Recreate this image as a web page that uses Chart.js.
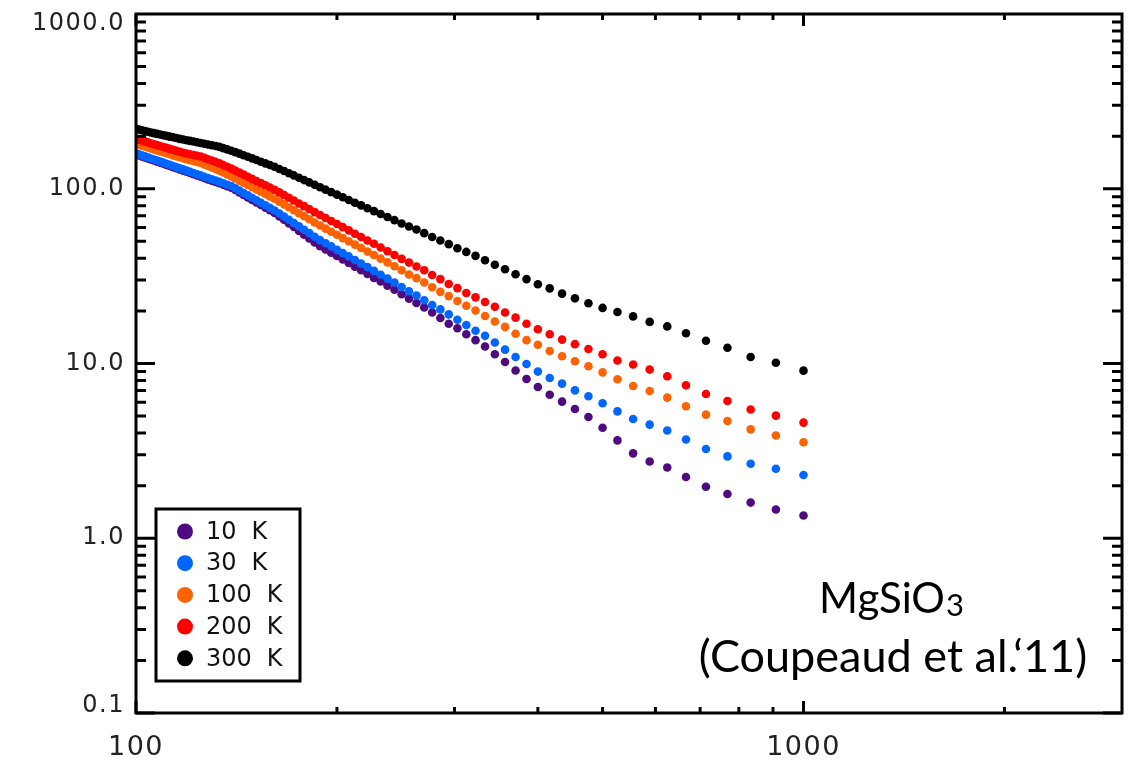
<!DOCTYPE html>
<html><head><meta charset="utf-8">
<script src="https://cdn.jsdelivr.net/npm/chart.js@4.4.1/dist/chart.umd.min.js"></script>
<style>html,body{margin:0;padding:0;background:#fff;}canvas{display:block;}</style>
</head><body>
<canvas id="c" width="1141" height="768"></canvas>
<script>
// wavelength (x) of each sample
const wavelength = [100, 101.01, 102.04, 103.09, 104.17, 105.26, 106.38, 107.53, 108.70, 109.89,
  111.11, 112.36, 113.64, 114.94, 116.28, 117.65, 119.05, 120.48, 121.95, 123.46,
  125, 126.58, 128.21, 129.87, 131.58, 133.33, 135.14, 136.99, 138.89, 140.85,
  142.86, 144.93, 147.06, 149.25, 151.52, 153.85, 156.25, 158.73, 161.29, 163.93,
  166.67, 169.49, 172.41, 175.44, 178.57, 181.82, 185.19, 188.68, 192.31, 196.08,
  200, 204.08, 208.33, 212.77, 217.39, 222.22, 227.27, 232.56, 238.10, 243.90,
  250, 256.41, 263.16, 270.27, 277.78, 285.71, 294.12, 303.03, 312.5, 322.58,
  333.33, 344.83, 357.14, 370.37, 384.62, 400, 416.67, 434.78, 454.55, 476.19,
  500, 526.32, 555.56, 588.24, 625, 666.67, 714.29, 769.23, 833.33, 909.09, 1000];

const k10 = [157.4, 155.3, 153.2, 151.2, 149.2, 147.2, 145.1, 143, 141, 138.9,
  136.9, 134.9, 132.9, 130.9, 129, 127.0, 125, 123, 121, 119.1,
  117.1, 115.1, 113.2, 111.3, 109.4, 107.5, 105.4, 103.4, 101.5, 98.4,
  95.3, 92.2, 89.2, 86.3, 83.5, 80.7, 78.0, 75.3, 72.7, 69.5,
  66.4, 63.3, 60.4, 57.4, 54.6, 51.9, 49.3, 46.9, 45.0, 43.1,
  41.2, 39.4, 37.6, 35.8, 34.2, 32.5, 30.9, 29.5, 27.9, 26.4,
  24.9, 23.5, 22.2, 20.9, 19.6, 18.2, 16.9, 15.9, 14.7, 13.6,
  12.5, 11.3, 10.2, 9.11, 8.15, 7.34, 6.63, 6.05, 5.49, 4.94,
  4.29, 3.63, 3.06, 2.75, 2.54, 2.24, 1.97, 1.79, 1.60, 1.46, 1.35];

const k30 = [159.5, 157.4, 155.3, 153.2, 151.1, 149.1, 147, 145, 143, 141,
  139.0, 137, 135, 133, 131, 129.0, 127, 125, 123.1, 121.1,
  119.2, 117.2, 115.2, 113.3, 111.4, 109.5, 107.5, 105.5, 103.6, 100.6,
  97.6, 94.6, 91.7, 88.8, 85.9, 83.1, 80.4, 77.7, 75.1, 72.1,
  69.3, 66.5, 63.6, 60.9, 58.2, 55.7, 53.1, 50.8, 48.8, 46.8,
  44.7, 42.8, 41.0, 39.1, 37.3, 35.6, 33.9, 32.2, 30.6, 29.1,
  27.4, 25.9, 24.5, 23.0, 21.6, 20.4, 19.1, 17.8, 16.6, 15.4,
  14.4, 13.2, 12.0, 10.9, 9.93, 8.99, 8.26, 7.67, 7.02, 6.49,
  5.92, 5.32, 4.81, 4.47, 4.14, 3.67, 3.24, 2.94, 2.67, 2.50, 2.30];

const k100 = [180.9, 178.7, 176.5, 174.4, 172.3, 170.2, 168, 165.8, 163.7, 161.6,
  159.5, 157.4, 155.3, 153.3, 151.3, 149.3, 147.5, 145.7, 144, 142.2,
  140.5, 137.7, 135, 132.3, 129.6, 127.0, 123.8, 120.7, 117.6, 114.4,
  111.3, 108.2, 105.1, 102.1, 99.2, 96.2, 93.3, 90.4, 87.6, 84.4,
  81.4, 78.3, 75.4, 72.5, 69.7, 66.9, 64.1, 61.6, 59.1, 56.8,
  54.5, 52.2, 50.1, 47.9, 45.8, 43.7, 41.8, 39.8, 37.9, 36.0,
  34.2, 32.3, 30.8, 29.1, 27.3, 25.7, 24.3, 22.8, 21.4, 20.1,
  18.7, 17.4, 16.2, 14.8, 13.6, 12.8, 11.8, 11.0, 10.3, 9.64,
  8.90, 8.12, 7.43, 6.96, 6.38, 5.69, 5.10, 4.69, 4.20, 3.87, 3.54];

const k200 = [193.2, 191, 188.8, 186.6, 184.4, 182.2, 179.9, 177.7, 175.6, 173.4,
  171.3, 169.1, 167, 164.9, 162.8, 160.8, 159.2, 157.6, 156, 154.5,
  152.9, 150.2, 147.6, 145, 142.4, 139.8, 136.6, 133.5, 130.4, 127,
  123.7, 120.4, 117.1, 113.9, 110.8, 107.7, 104.7, 101.7, 98.7, 95.3,
  92.1, 88.8, 85.7, 82.4, 79.5, 76.5, 73.5, 70.7, 68.0, 65.4,
  62.8, 60.3, 57.8, 55.3, 52.9, 50.6, 48.4, 46.1, 43.9, 41.8,
  39.7, 37.8, 35.9, 34.2, 32.1, 30.4, 28.5, 27.0, 25.3, 23.9,
  22.5, 21.1, 19.6, 18.3, 16.9, 15.7, 14.7, 13.7, 12.9, 12.1,
  11.3, 10.4, 9.86, 9.23, 8.45, 7.50, 6.69, 6.10, 5.45, 5.03, 4.59];

const k300 = [220, 218, 216, 214, 212, 210, 208, 206, 204.5, 202.5,
  200.7, 198.8, 197, 195, 193, 191.3, 189.5, 187.8, 186.2, 184.5,
  182.9, 181, 179.2, 177.3, 175.5, 173.6, 170.7, 167.9, 165.1, 162,
  158.9, 155.6, 152.4, 149.2, 146.0, 142.8, 139.7, 136.6, 133.5, 129.8,
  126.3, 122.7, 119.2, 115.6, 112.1, 108.7, 105.3, 102.0, 98.8, 95.6,
  92.6, 89.4, 86.2, 83.2, 80.3, 77.3, 74.5, 71.7, 68.9, 66.1,
  63.3, 60.8, 58.5, 55.7, 53.0, 50.6, 48.2, 45.7, 43.5, 41.3,
  39.0, 36.7, 34.6, 32.4, 30.4, 28.4, 26.9, 25.1, 23.6, 22.1,
  20.8, 19.7, 18.6, 17.3, 16.3, 14.9, 13.5, 12.3, 10.9, 10.1, 9.1];

const seriesLabels = ['10 K', '30 K', '100 K', '200 K', '300 K'];
const seriesValues = [k10, k30, k100, k200, k300];
const seriesColors = ['#4f0a80', '#0066ff', '#ff6200', '#ff0000', '#000000'];

const xTickValues = [100, 1000];
const xTickLabels = ['100', '1000'];
const yTickValues = [0.1, 1, 10, 100, 1000];
const yTickLabels = ['0.1', '1.0', '10.0', '100.0', '1000.0'];
const noteLine1 = 'MgSiO';
const noteSub = '3';
const noteLine2 = '(Coupeaud et al.\u201811)';

const datasets = seriesValues.map((vals, s) => ({
  label: seriesLabels[s],
  data: wavelength.map((w, i) => ({ x: w, y: vals[i] })),
  backgroundColor: seriesColors[s],
  borderColor: seriesColors[s],
  borderWidth: 0,
  pointRadius: 4.3,
  pointHoverRadius: 4.3,
  showLine: false,
  clip: 0,
  order: seriesValues.length - s
}));

const frameTicks = {
  id: 'frameTicks',
  beforeDraw(chart) {
    chart.ctx.letterSpacing = '1.5px';
    // keep the end labels of the y axis inside the frame, as in the original
    try {
      const items = chart.scales.y.getLabelItems(chart.chartArea);
      items.forEach((it) => {
        if (it.label === yTickLabels[yTickLabels.length - 1] && !it._shifted) { it.options.translation[1] += 10; it._shifted = true; }
        if (it.label === yTickLabels[0] && !it._shifted) { it.options.translation[1] -= 7; it._shifted = true; }
      });
    } catch (e) {}
  },
  afterDatasetsDraw(chart) {
    const { ctx, chartArea: a, scales: { x, y } } = chart;
    ctx.save();
    ctx.strokeStyle = '#000';
    ctx.lineWidth = 3;
    ctx.beginPath();
    for (let e = -1; e <= 2; e++) {
      for (let m = 1; m <= 9; m++) {
        const v = m * Math.pow(10, e);
        const py = y.getPixelForValue(v);
        const len = m === 1 ? 19 : 10;
        ctx.moveTo(a.left, py); ctx.lineTo(a.left + len, py);
        ctx.moveTo(a.right, py); ctx.lineTo(a.right - len, py);
      }
    }
    for (let e = 2; e <= 3; e++) {
      for (let m = 1; m <= 9; m++) {
        const v = m * Math.pow(10, e);
        if (v >= 3000) continue;
        const px = x.getPixelForValue(v);
        const len = m === 1 ? 12 : 6;
        ctx.moveTo(px, a.bottom); ctx.lineTo(px, a.bottom - len);
        ctx.moveTo(px, a.top); ctx.lineTo(px, a.top + len);
      }
    }
    ctx.stroke();
    ctx.lineJoin = 'miter';
    ctx.strokeRect(a.left, a.top, a.right - a.left, a.bottom - a.top);
    ctx.restore();
  },
  afterDraw(chart) {
    const { ctx, chartArea: a } = chart;
    ctx.save();
    ctx.letterSpacing = '0px';
    const bx = a.left + 20, by = 509, bw = 144, bh = 172;
    ctx.fillStyle = '#fff';
    ctx.fillRect(bx, by, bw, bh);
    ctx.strokeStyle = '#000';
    ctx.lineWidth = 3;
    ctx.strokeRect(bx, by, bw, bh);
    ctx.font = '24px "DejaVu Sans"';
    ctx.textBaseline = 'middle';
    ctx.textAlign = 'left';
    chart.data.datasets.forEach((ds, i) => {
      const cy = by + 22.5 + i * 31.7;
      ctx.fillStyle = ds.backgroundColor;
      ctx.beginPath();
      ctx.arc(bx + 29, cy, 8, 0, Math.PI * 2);
      ctx.fill();
      ctx.fillStyle = '#111';
      const parts = ds.label.split(' ');
      ctx.fillText(parts[0], bx + 50, cy + 1);
      const w = ctx.measureText(parts[0]).width;
      ctx.fillText(parts[1], bx + 50 + w + 15, cy + 1);
    });
    ctx.fillStyle = '#000';
    ctx.textBaseline = 'alphabetic';
    ctx.font = '42px Lato';
    const w1 = ctx.measureText(noteLine1).width;
    ctx.font = '31px Lato';
    const ws = ctx.measureText(noteSub).width;
    const cx = 891;
    const x1 = cx - (w1 + ws) / 2;
    ctx.font = '42px Lato';
    ctx.textAlign = 'left';
    ctx.fillText(noteLine1, x1, 613);
    ctx.font = '31px Lato';
    ctx.fillText(noteSub, x1 + w1 + 1, 616);
    ctx.font = '45px Lato';
    ctx.textAlign = 'center';
    ctx.fillText(noteLine2, 893, 672);
    ctx.restore();
  }
};

new Chart(document.getElementById('c'), {
  type: 'scatter',
  data: { datasets },
  options: {
    responsive: false,
    animation: false,
    devicePixelRatio: 1,
    layout: { padding: { top: 14, right: 19, left: 0, bottom: 0 } },
    plugins: { legend: { display: false }, tooltip: { enabled: false } },
    scales: {
      x: {
        type: 'logarithmic', min: 100, max: 3000,
        border: { display: false },
        grid: { display: false, drawTicks: false },
        afterFit: (s) => { s.height = 55; s.paddingLeft = 0; s.paddingRight = 0; },
        ticks: {
          autoSkip: false, maxRotation: 0, padding: 19,
          color: '#222', font: { family: 'DejaVu Sans', size: 27 },
          callback: (v) => { const i = xTickValues.indexOf(Number(v)); return i >= 0 ? xTickLabels[i] : ''; }
        }
      },
      y: {
        type: 'logarithmic', min: 0.1, max: 1000,
        border: { display: false },
        grid: { display: false, drawTicks: false },
        afterFit: (s) => { s.width = 136; s.paddingTop = 0; s.paddingBottom = 0; },
        ticks: {
          autoSkip: false, padding: 11,
          color: '#222', font: { family: 'DejaVu Sans', size: 24 },
          callback: (v) => { const n = Number(v); const i = yTickValues.findIndex(t => Math.abs(t - n) < 1e-9 * t); return i >= 0 ? yTickLabels[i] : ''; }
        }
      }
    }
  },
  plugins: [frameTicks]
});
</script>
</body></html>
